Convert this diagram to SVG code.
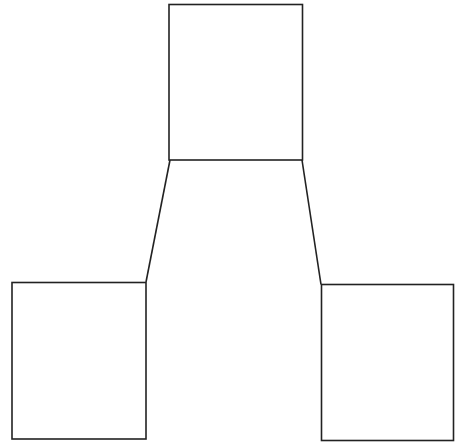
<svg xmlns="http://www.w3.org/2000/svg" width="457" height="444" viewBox="0 0 457 444">
<style>
.box{fill:#ffffff;stroke:#222222;stroke-width:1.6}
.conn{fill:none;stroke:#222222;stroke-width:1.6}
</style>
<rect width="457" height="444" fill="#ffffff"/>
<g id="connectors">
<line class="conn" x1="170" y1="160" x2="146" y2="282"/>
<line class="conn" x1="302" y1="160" x2="321" y2="284.5"/>
</g>
<g id="node-top"><rect class="box" x="169" y="4.5" width="133.5" height="155.5"/></g>
<g id="node-left"><rect class="box" x="12" y="282.5" width="134" height="156.5"/></g>
<g id="node-right"><rect class="box" x="321.5" y="284.5" width="132" height="156"/></g>
</svg>
